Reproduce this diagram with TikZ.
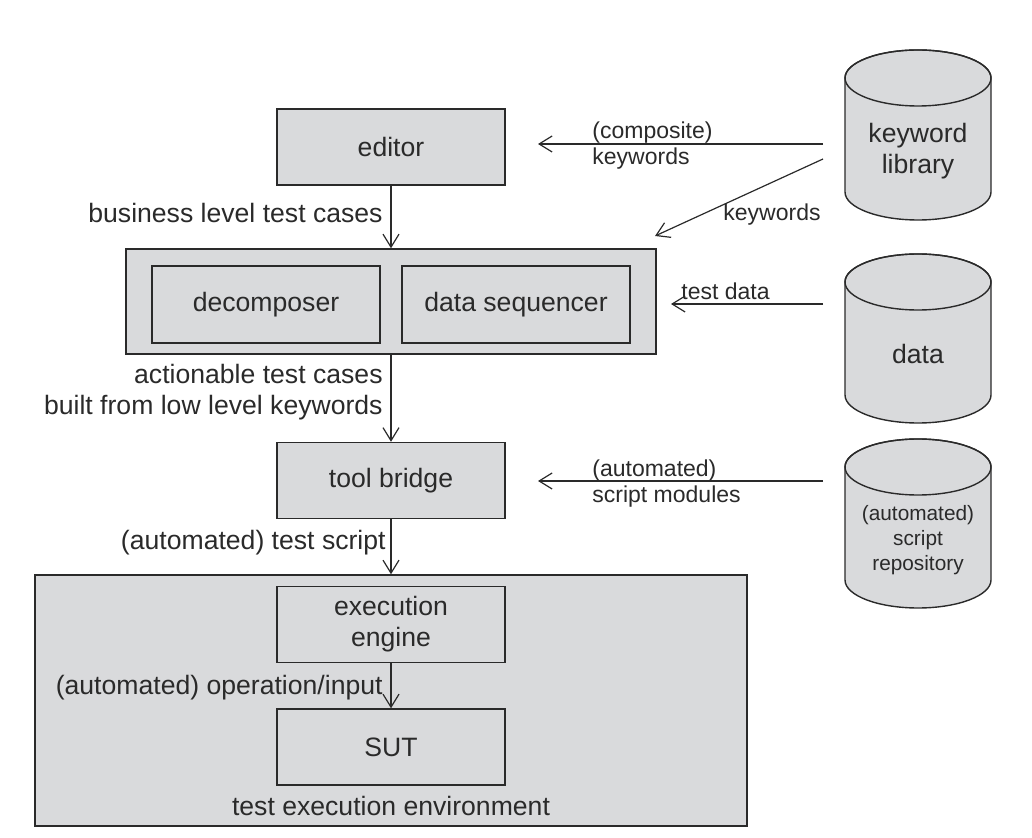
\documentclass[tikz,border=0pt]{standalone}
\usepackage{fontspec}
\setmainfont{Liberation Sans}
\usetikzlibrary{arrows.meta}
\definecolor{boxgray}{HTML}{D9DADC}
\definecolor{ink}{HTML}{2A2A2A}
\newcommand\mainsz{\fontsize{13.3}{15.5}\selectfont}
\newcommand\labsz{\fontsize{11.5}{13}\selectfont}
\newcommand\reposz{\fontsize{10.4}{12.4}\selectfont}
\begin{document}
\begin{tikzpicture}[x=0.5pt,y=-0.5pt,
  bx/.style={draw=ink,fill=boxgray,line width=0.7pt,minimum width=114pt,
    minimum height=38pt,inner sep=0pt,align=center,text=ink,font=\mainsz},
  lab/.style={inner sep=0pt,text=ink,font=\mainsz},
  slab/.style={inner sep=0pt,text=ink,font=\labsz,align=left},
  arr/.style={draw=ink,line width=0.6pt,-{Straight Barb[length=6.5pt,width=8pt]}}]
\useasboundingbox (0,0) rectangle (1032,838);
% database cylinder: top y, bottom y
\def\db#1#2{
\draw[ink,line width=0.7pt,fill=boxgray] (845,#1) -- (845,#2)
  arc[start angle=180,end angle=360,x radius=36.5pt,y radius=14pt]
  -- (991,#1) arc[start angle=0,end angle=180,x radius=36.5pt,y radius=14pt] -- cycle;
\draw[ink,line width=0.7pt] (918,#1) ellipse[x radius=36.5pt,y radius=14pt];
}
% boxes
\node[bx,minimum width=356pt,minimum height=125.5pt] (env) at (391,700.5) {};
\node[bx] (editor) at (391,147) {editor};
\node[bx,minimum width=265pt,minimum height=52.5pt] (proc) at (391,301.5) {};
\node[bx,minimum height=38.5pt] (decomp) at (266,304.5) {decomposer};
\node[bx,minimum height=38.5pt] (seq) at (516,304.5) {data sequencer};
\node[bx] (bridge) at (391,480.5) {tool bridge};
\node[bx] (engine) at (391,624.5) {execution\\engine};
\node[bx] (sut) at (391,747) {SUT};
% databases
\db{78}{192}
\db{282}{395}
\db{467}{580}
\node[lab,align=center] (kwlib) at (918,151) {keyword\\library};
\node[lab] (data) at (918,354) {data};
\node[inner sep=0pt,text=ink,font=\reposz,align=center] (repo) at (918,540) {(automated)\\script\\repository};
% free ends
\coordinate (kwa) at (823,144);
\coordinate (kwb) at (538,144);
\coordinate (kwc) at (823,159);
\coordinate (kwd) at (655,236);
\coordinate (tda) at (823,304);
\coordinate (tdb) at (671,304);
\coordinate (sma) at (823,481);
\coordinate (smb) at (538,481);
% connectors
\draw[arr] (editor) -- (editor |- proc.north);
\draw[arr] (proc.south -| editor) -- (bridge);
\draw[arr] (bridge) -- (bridge |- env.north);
\draw[arr] (engine) -- (sut);
\draw[arr] (kwa) -- (kwb);
\draw[arr] (kwc) -- (kwd);
\draw[arr] (tda) -- (tdb);
\draw[arr] (sma) -- (smb);
% labels
\node[lab,anchor=east] (blt) at (383,213) {business level test cases};
\node[lab,anchor=east,align=right] (atc) at (383,392) {actionable test cases\\built from low level keywords};
\node[lab,anchor=east] (ats) at (386,543) {(automated) test script};
\node[lab,anchor=east] (aoi) at (383,688) {(automated) operation/input};
\node[lab] (tee) at (391,806) {test execution environment};
\node[slab,anchor=west] (ckw) at (592,146) {(composite)\\keywords};
\node[slab] (kw) at (772,215) {keywords};
\node[slab,anchor=base west] (td) at (681,300) {test data};
\node[slab,anchor=west] (asm) at (592,484) {(automated)\\script modules};
\end{tikzpicture}
\end{document}
